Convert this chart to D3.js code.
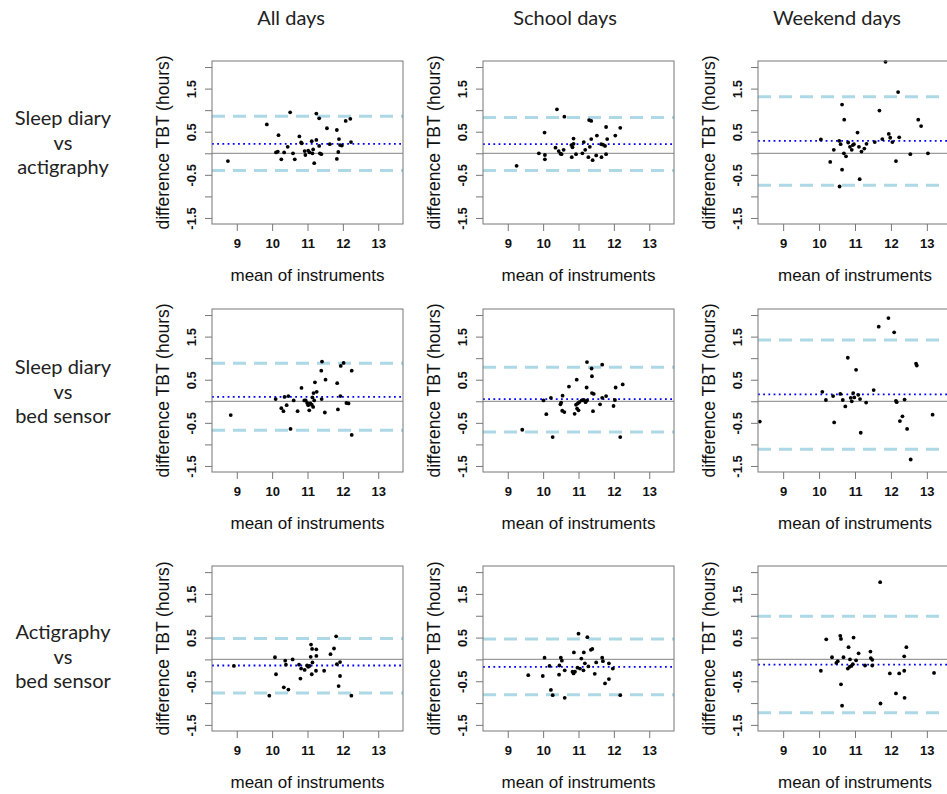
<!DOCTYPE html>
<html>
<head>
<meta charset="utf-8">
<script src="https://cdn.jsdelivr.net/npm/d3@7"></script>
<style>
  body { margin: 0; background: #fff; }
  svg { display: block; }
</style>
</head>
<body>
<svg id="chart" width="947" height="794"></svg>
<script>
// column / row headings
let columnTitles = ["All days", "School days", "Weekend days"];
let rowLabels = [
  ["Sleep diary", "vs", "actigraphy"],
  ["Sleep diary", "vs", "bed sensor"],
  ["Actigraphy", "vs", "bed sensor"]
];

let xTicks = [9, 10, 11, 12, 13];
let yTicks = [2, 1.5, 1, 0.5, 0, -0.5, -1, -1.5];
let yTickLabels = ["", "1.5", "", "0.5", "", "-0.5", "", "-1.5"];

// mean difference (dotted) and limits of agreement (dashed), rows x columns
let bias = [
  [0.22, 0.21, 0.29],
  [0.10, 0.05, 0.16],
  [-0.14, -0.17, -0.12]
];
let upperLimit = [
  [0.86, 0.83, 1.31],
  [0.88, 0.79, 1.42],
  [0.48, 0.47, 0.99]
];
let lowerLimit = [
  [-0.40, -0.40, -0.74],
  [-0.67, -0.71, -1.11],
  [-0.77, -0.81, -1.22]
];

// points: [mean of instruments, difference]
let diaryActAll = [[8.75,-0.18],[9.85,0.67],[10.18,0.42],[10.11,0.02],[10.16,0.04],[10.26,-0.14],[10.34,0.02],[10.44,0.15],[10.51,0.95],[10.59,0.0],[10.64,-0.14],[10.77,0.39],[10.82,0.25],[10.84,0.23],[10.92,0.05],[10.94,-0.04],[11.02,0.06],[11.06,0.02],[11.12,0.28],[11.14,0.0],[11.16,0.09],[11.19,-0.23],[11.25,0.31],[11.25,0.92],[11.33,0.81],[11.33,0.17],[11.35,0.0],[11.39,-0.02],[11.55,0.58],[11.63,0.21],[11.83,0.54],[11.83,-0.13],[11.87,0.03],[11.89,0.33],[11.92,0.19],[11.97,0.18],[12.08,0.75],[12.21,0.80],[12.23,0.26]];
let diaryActSchool = [[9.25,-0.29],[9.88,0.0],[10.04,0.48],[10.05,-0.04],[10.05,-0.14],[10.35,0.13],[10.39,1.02],[10.44,0.05],[10.49,-0.01],[10.52,-0.02],[10.58,0.08],[10.60,0.85],[10.80,0.19],[10.83,0.14],[10.81,-0.09],[10.86,0.22],[10.86,0.34],[10.93,-0.02],[11.11,0.0],[11.15,0.26],[11.19,0.08],[11.28,-0.09],[11.30,0.77],[11.36,0.75],[11.32,0.15],[11.36,0.33],[11.40,-0.16],[11.50,-0.05],[11.52,0.41],[11.64,0.21],[11.65,-0.09],[11.69,0.20],[11.75,0.17],[11.78,0.61],[11.78,-0.02],[11.81,0.33],[12.04,0.41],[12.18,0.59]];
let diaryActWeekend = [[10.05,0.32],[10.31,-0.20],[10.41,0.08],[10.56,0.29],[10.57,-0.77],[10.60,0.21],[10.64,-0.38],[10.64,1.13],[10.69,0.0],[10.70,0.78],[10.75,-0.07],[10.81,0.25],[10.86,0.15],[10.91,0.08],[10.94,0.19],[10.97,0.21],[11.07,0.48],[11.11,0.15],[11.13,-0.60],[11.18,0.04],[11.26,0.11],[11.32,0.22],[11.55,0.26],[11.68,0.99],[11.76,0.33],[11.85,2.12],[11.94,0.45],[11.98,0.36],[12.04,0.26],[12.14,-0.18],[12.20,1.42],[12.23,0.37],[12.54,-0.02],[12.76,0.78],[12.84,0.63],[13.03,0.0]];

let diaryBedAll = [[8.83,-0.32],[10.10,0.05],[10.26,-0.16],[10.32,-0.23],[10.35,0.10],[10.41,-0.09],[10.46,0.12],[10.52,-0.64],[10.61,0.02],[10.72,-0.23],[10.83,0.31],[10.91,0.02],[10.95,0.02],[10.99,-0.04],[11.02,-0.09],[11.05,-0.21],[11.08,-0.05],[11.12,-0.08],[11.14,0.09],[11.16,-0.13],[11.17,0.19],[11.19,0.02],[11.21,0.44],[11.26,0.22],[11.40,0.05],[11.39,0.71],[11.41,0.92],[11.51,0.50],[11.49,-0.26],[11.84,0.42],[11.86,-0.19],[11.93,0.12],[11.94,0.82],[12.02,0.89],[12.10,-0.04],[12.16,-0.05],[12.25,0.71],[12.25,-0.78]];
let diaryBedSchool = [[9.41,-0.66],[10.01,0.02],[10.09,-0.30],[10.22,0.08],[10.27,-0.83],[10.49,-0.07],[10.51,-0.03],[10.55,0.13],[10.54,-0.22],[10.60,-0.25],[10.73,0.34],[10.89,-0.29],[10.93,-0.08],[10.95,0.50],[10.96,-0.17],[10.98,-0.05],[11.00,-0.21],[11.02,-0.02],[11.09,0.02],[11.15,0.03],[11.20,-0.02],[11.23,0.32],[11.24,0.02],[11.24,0.91],[11.37,0.76],[11.38,0.58],[11.38,0.19],[11.43,0.17],[11.41,-0.23],[11.61,-0.07],[11.67,0.85],[11.67,0.08],[11.78,0.12],[11.99,-0.11],[12.03,0.03],[12.05,0.32],[12.18,-0.83],[12.25,0.39]];
let diaryBedWeekend = [[8.35,-0.47],[10.09,0.22],[10.19,0.03],[10.39,0.12],[10.42,-0.49],[10.59,0.17],[10.66,0.03],[10.73,-0.12],[10.80,1.01],[10.88,0.08],[10.91,0.0],[10.95,0.19],[10.98,0.09],[11.03,0.73],[11.09,0.15],[11.14,0.05],[11.16,-0.73],[11.31,-0.03],[11.52,0.26],[11.66,1.73],[11.93,1.93],[12.09,1.60],[12.14,0.01],[12.16,-0.02],[12.25,-0.46],[12.32,-0.35],[12.38,0.04],[12.45,-0.64],[12.55,-1.35],[12.70,0.87],[12.72,0.83],[13.16,-0.31]];

let actBedAll = [[8.92,-0.15],[9.92,-0.83],[10.08,0.05],[10.11,-0.34],[10.33,-0.64],[10.37,-0.03],[10.39,-0.12],[10.46,-0.69],[10.58,0.0],[10.76,-0.12],[10.80,-0.44],[10.82,-0.21],[10.92,-0.24],[10.99,-0.14],[11.02,-0.17],[11.06,-0.15],[11.09,0.06],[11.10,0.34],[11.12,-0.34],[11.13,0.24],[11.14,-0.07],[11.24,-0.26],[11.25,0.08],[11.25,0.23],[11.47,-0.26],[11.65,0.12],[11.75,0.25],[11.81,0.53],[11.83,-0.11],[11.88,-0.61],[11.92,-0.38],[11.92,-0.06],[12.24,-0.83]];
let actBedSchool = [[9.58,-0.36],[9.99,-0.38],[10.04,0.04],[10.18,-0.15],[10.22,-0.70],[10.27,-0.82],[10.45,-0.35],[10.46,-0.14],[10.50,0.04],[10.53,-0.03],[10.61,-0.25],[10.61,-0.88],[10.83,-0.28],[10.86,-0.32],[10.87,0.16],[10.90,-0.28],[10.97,-0.19],[11.00,0.59],[11.04,-0.21],[11.08,0.02],[11.14,-0.25],[11.15,0.16],[11.18,-0.09],[11.25,0.51],[11.28,-0.16],[11.35,0.22],[11.39,0.24],[11.46,-0.33],[11.50,-0.07],[11.67,0.04],[11.69,-0.04],[11.75,-0.55],[11.86,-0.09],[11.86,-0.45],[11.97,-0.21],[12.18,-0.82]];
let actBedWeekend = [[10.05,-0.26],[10.20,0.46],[10.36,0.05],[10.48,-0.08],[10.52,-0.04],[10.59,0.54],[10.61,0.47],[10.61,-0.57],[10.64,-1.06],[10.68,0.05],[10.80,-0.21],[10.82,0.28],[10.85,-0.17],[10.86,0.0],[10.90,-0.15],[10.94,-0.11],[10.96,0.50],[11.03,-0.02],[11.10,0.14],[11.28,-0.14],[11.43,0.18],[11.44,0.03],[11.48,-0.01],[11.48,-0.14],[11.70,1.77],[11.71,-1.01],[11.97,-0.32],[12.14,-0.78],[12.23,-0.32],[12.37,-0.26],[12.38,-0.88],[12.37,0.07],[12.43,0.28],[13.20,-0.31]];

let panelPoints = [
  [diaryActAll, diaryActSchool, diaryActWeekend],
  [diaryBedAll, diaryBedSchool, diaryBedWeekend],
  [actBedAll, actBedSchool, actBedWeekend]
];

let drawPanels = function() {
  let svg = d3.select("#chart");

  let boxLeft = [212, 483, 758];
  let boxWidth = [191, 191, 194];
  let boxTop = [61, 309, 566];
  let boxHeight = [163, 163, 165];

  let titleX = [291, 565, 837];
  let rowY = [118, 367, 632];

  let headFont = "Lato, 'Noto Sans', sans-serif";
  let plotFont = "'Liberation Sans', Arial, Helvetica, sans-serif";

  // column titles
  svg.selectAll("text.col-title")
    .data(columnTitles)
    .join("text")
      .attr("class", "col-title")
      .attr("x", (d, i) => titleX[i])
      .attr("y", 25)
      .attr("text-anchor", "middle")
      .attr("font-family", headFont)
      .attr("font-size", 20)
      .attr("fill", "#222")
      .text(d => d);

  // row labels
  rowLabels.forEach((lines, r) => {
    svg.append("g")
      .selectAll("text")
      .data(lines)
      .join("text")
        .attr("x", 63)
        .attr("y", (d, i) => rowY[r] + 7 + i * 24.5)
        .attr("text-anchor", "middle")
        .attr("font-family", headFont)
        .attr("font-size", 20)
        .attr("fill", "#222")
        .text(d => d);
  });

  for (let r = 0; r < 3; r++) {
    for (let c = 0; c < 3; c++) {
      let x0 = boxLeft[c], y0 = boxTop[r];
      let w = boxWidth[c], h = boxHeight[r];

      // R style: limits extended by 4% on each side
      let xScale = d3.scaleLinear().domain([8.3, 13.7]).range([0, w]);
      let yScale = d3.scaleLinear().domain([-1.64, 2.14]).range([h, 0]);

      let g = svg.append("g")
        .attr("transform", "translate(" + x0 + "," + y0 + ")");

      let clipId = "clip-" + r + "-" + c;
      g.append("clipPath").attr("id", clipId)
        .append("rect").attr("x", 0).attr("y", 0).attr("width", w).attr("height", h);

      let inner = g.append("g").attr("clip-path", "url(#" + clipId + ")");

      // zero line
      inner.append("line")
        .attr("x1", 0).attr("x2", w)
        .attr("y1", yScale(0)).attr("y2", yScale(0))
        .attr("stroke", "#9a9a9a").attr("stroke-width", 1.2);

      // limits of agreement
      inner.selectAll("line.loa")
        .data([upperLimit[r][c], lowerLimit[r][c]])
        .join("line")
          .attr("class", "loa")
          .attr("x1", 0).attr("x2", w)
          .attr("y1", d => yScale(d)).attr("y2", d => yScale(d))
          .attr("stroke", "#add8e6").attr("stroke-width", 3)
          .attr("stroke-dasharray", "13,8");

      // mean difference
      inner.append("line")
        .attr("x1", 0).attr("x2", w)
        .attr("y1", yScale(bias[r][c])).attr("y2", yScale(bias[r][c]))
        .attr("stroke", "#0000ff").attr("stroke-width", 1.8)
        .attr("stroke-dasharray", "1.8,3.4");

      // points
      g.selectAll("circle")
        .data(panelPoints[r][c])
        .join("circle")
          .attr("cx", d => xScale(d[0]))
          .attr("cy", d => yScale(d[1]))
          .attr("r", 1.9)
          .attr("fill", "#000");

      // box
      g.append("rect")
        .attr("x", 0).attr("y", 0).attr("width", w).attr("height", h)
        .attr("fill", "none").attr("stroke", "#777").attr("stroke-width", 1);

      // axes
      let xAxis = d3.axisBottom(xScale).tickValues(xTicks).tickSize(7).tickPadding(8)
        .tickFormat(d3.format("d"));
      let xGroup = g.append("g").attr("transform", "translate(0," + h + ")").call(xAxis);
      xGroup.select(".domain").remove();

      let yAxis = d3.axisLeft(yScale).tickValues(yTicks).tickSize(7)
        .tickFormat((d, i) => yTickLabels[i]);
      let yGroup = g.append("g").call(yAxis);
      yGroup.select(".domain").remove();

      [xGroup, yGroup].forEach(ax => {
        ax.selectAll(".tick line").attr("stroke", "#777");
        ax.selectAll(".tick text")
          .attr("font-family", plotFont)
          .attr("font-size", 13)
          .attr("font-weight", "bold")
          .attr("fill", "#111");
      });
      // vertical tick labels, as R draws them
      yGroup.selectAll(".tick text")
        .attr("transform", "rotate(-90)")
        .attr("text-anchor", "middle")
        .attr("x", 0)
        .attr("dy", "0")
        .attr("y", -16);

      // axis titles
      g.append("text")
        .attr("x", w / 2)
        .attr("y", h + 57)
        .attr("text-anchor", "middle")
        .attr("font-family", plotFont)
        .attr("font-size", 17)
        .attr("fill", "#111")
        .text("mean of instruments");

      g.append("text")
        .attr("transform", "translate(-43," + (h / 2) + ") rotate(-90)")
        .attr("text-anchor", "middle")
        .attr("font-family", plotFont)
        .attr("font-size", 17.5)
        .attr("fill", "#111")
        .text("difference TBT (hours)");
    }
  }
};

drawPanels();
</script>
</body>
</html>
